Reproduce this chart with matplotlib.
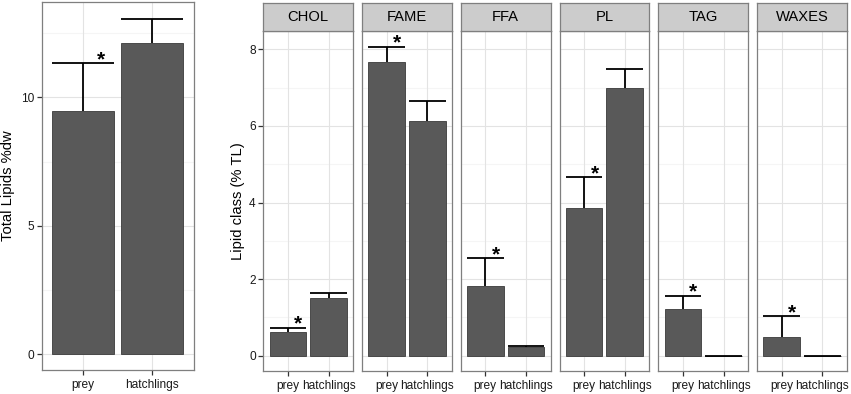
import matplotlib
matplotlib.use('Agg')
from matplotlib import pyplot as plt

plt.rcParams['font.family'] = ['Liberation Sans', 'DejaVu Sans']

# data
groups = ['prey', 'hatchlings']
total_mean = [9.47, 12.10]
total_se = [1.85, 0.95]
total_star = [True, False]

classes = ['CHOL', 'FAME', 'FFA', 'PL', 'TAG', 'WAXES']
prey_mean = [0.61, 7.66, 1.83, 3.87, 1.22, 0.50]
prey_se = [0.12, 0.41, 0.71, 0.79, 0.35, 0.54]
hatch_mean = [1.50, 6.13, 0.23, 7.00, 0.0, 0.0]
hatch_se = [0.13, 0.52, 0.02, 0.50, 0.0, 0.0]
prey_star = [True, True, True, True, True, True]

W, H = 851, 394
BAR = '#595959'
BORDER = '#7f7f7f'
GRID_MAJ = '#e3e3e3'
GRID_MIN = '#f5f5f5'


def px_rect(l, t, r, b):
    return [l / W, 1 - b / H, (r - l) / W, (b - t) / H]


def style_panel(ax, yticks, yminor, ylim):
    ax.set_xlim(0.4, 2.6)
    ax.set_ylim(*ylim)
    ax.set_facecolor('white')
    for y in yminor:
        ax.axhline(y, color=GRID_MIN, lw=0.8, zorder=0)
    for y in yticks:
        ax.axhline(y, color=GRID_MAJ, lw=0.8, zorder=0)
    for x in [1, 2]:
        ax.axvline(x, color=GRID_MAJ, lw=0.8, zorder=0)
    for s in ax.spines.values():
        s.set_color(BORDER)
        s.set_linewidth(0.9)
    ax.set_xticks([1, 2])
    ax.set_xticklabels(groups)
    ax.set_yticks(yticks)
    ax.tick_params(length=3.3, width=0.9, color='#333333', labelsize=8.6,
                   labelcolor='#1a1a1a', pad=2.2)
    ax.tick_params(axis='x', pad=3.4)


def draw_bars(ax, means, ses, stars):
    xs = [1, 2]
    ax.bar(xs, means, width=0.9, color=BAR, edgecolor='#3a3a3a', linewidth=0.6, zorder=2)
    for x, m, se in zip(xs, means, ses):
        top = m + se
        ax.plot([x, x], [m, top], color='black', lw=1.3, zorder=3, solid_capstyle='butt')
        ax.plot([x - 0.45, x + 0.45], [top, top], color='black', lw=1.3, zorder=3,
                solid_capstyle='butt')
    for x, m, se, st in zip(xs, means, ses, stars):
        if st:
            ax.annotate('*', (x + 0.26, m + se), xytext=(0, -1.5), textcoords='offset points',
                        ha='center', va='baseline', fontsize=15, fontweight='bold',
                        color='black', zorder=4)


fig = plt.figure(figsize=(W / 100, H / 100), dpi=100)

# left panel: total lipids
ax0 = fig.add_axes(px_rect(41.7, 1.7, 193.7, 370))
style_panel(ax0, [0, 5, 10], [2.5, 7.5, 12.5], (-0.61, 13.72))
draw_bars(ax0, total_mean, total_se, total_star)
fig.text(8.5 / W, 1 - 186 / H, 'Total Lipids %dw', rotation=90, ha='center', va='center',
         fontsize=10.6, color='black')

# right facets: lipid classes
left0, step, pw = 263.4, 98.75, 89.6
top_strip, top_panel, bottom = 2.7, 31.0, 370.7
for i, cls in enumerate(classes):
    l = left0 + i * step
    ax = fig.add_axes(px_rect(l, top_panel, l + pw, bottom))
    style_panel(ax, [0, 2, 4, 6, 8], [1, 3, 5, 7], (-0.39, 8.48))
    draw_bars(ax, [prey_mean[i], hatch_mean[i]], [prey_se[i], hatch_se[i]],
              [prey_star[i], False])
    if i > 0:
        ax.tick_params(axis='y', left=False, labelleft=False)

    sax = fig.add_axes(px_rect(l, top_strip, l + pw, top_panel))
    sax.set_facecolor('#cccccc')
    sax.set_xticks([])
    sax.set_yticks([])
    for s in sax.spines.values():
        s.set_color(BORDER)
        s.set_linewidth(0.9)
    sax.text(0.5, 0.5, cls, ha='center', va='center', fontsize=10.6, color='black',
             transform=sax.transAxes)

fig.text(238 / W, 1 - 201 / H, 'Lipid class (% TL)', rotation=90, ha='center', va='center',
         fontsize=10.6, color='black')

fig.savefig('out.png', dpi=100)
